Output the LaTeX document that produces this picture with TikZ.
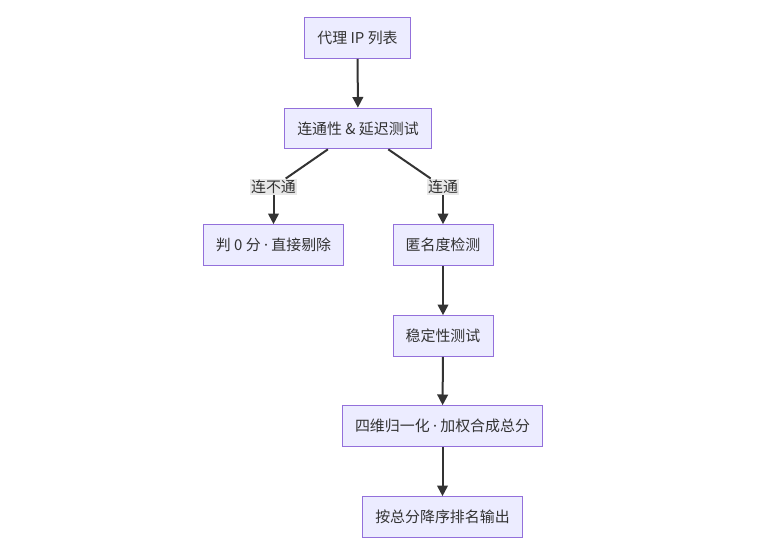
\documentclass[tikz,border=0pt]{standalone}
\usepackage{fontspec}
\setmainfont{Noto Sans CJK SC}
\newfontfamily\dotfont{Noto Sans}
\usetikzlibrary{arrows.meta}
\definecolor{boxfill}{HTML}{ECECFF}
\definecolor{boxline}{HTML}{9370DB}
\definecolor{edgecol}{HTML}{333333}
\definecolor{lblfill}{HTML}{E8E8E8}
\newcommand{\middot}{{\dotfont ·}}
\begin{document}
\begin{tikzpicture}[x=0.75pt,y=-0.75pt,
  box/.style={draw=boxline,fill=boxfill,line width=0.75pt,minimum height=30.5pt,inner xsep=9.5pt,
    font=\fontsize{11.2}{13}\selectfont,text=edgecol},
  lbl/.style={fill=lblfill,inner sep=1pt,font=\fontsize{11.2}{13}\selectfont,text=edgecol},
  edge/.style={draw=edgecol,line width=1.5pt,-{Triangle[length=8pt,width=8pt]}}]
	\useasboundingbox (0,0) rectangle (782,560);
	\node[box] (list) at (357.5,38) {代理 IP 列表};
	\node[box] (conn) at (358,128.5) {连通性 \& 延迟测试};
	\node[box] (drop) at (273.5,245) {判 0 分 \middot{} 直接剔除};
	\node[box] (anon) at (443,245) {匿名度检测};
	\node[box] (stab) at (443,336) {稳定性测试};
	\node[box] (norm) at (442.5,426) {四维归一化 \middot{} 加权合成总分};
	\node[box] (rank) at (442.5,517) {按总分降序排名输出};
	\node[lbl] (fail) at (273.5,187) {连不通};
	\node[lbl] (ok) at (443,187) {连通};
	\draw[edge] (list) -- (conn);
	\draw[edgecol,line width=1.5pt] (conn) -- (fail);
	\draw[edge] (fail) -- (drop);
	\draw[edgecol,line width=1.5pt] (conn) -- (ok);
	\draw[edge] (ok) -- (anon);
	\draw[edge] (anon) -- (stab);
	\draw[edge] (stab) -- (norm);
	\draw[edge] (norm) -- (rank);
\end{tikzpicture}
\end{document}
